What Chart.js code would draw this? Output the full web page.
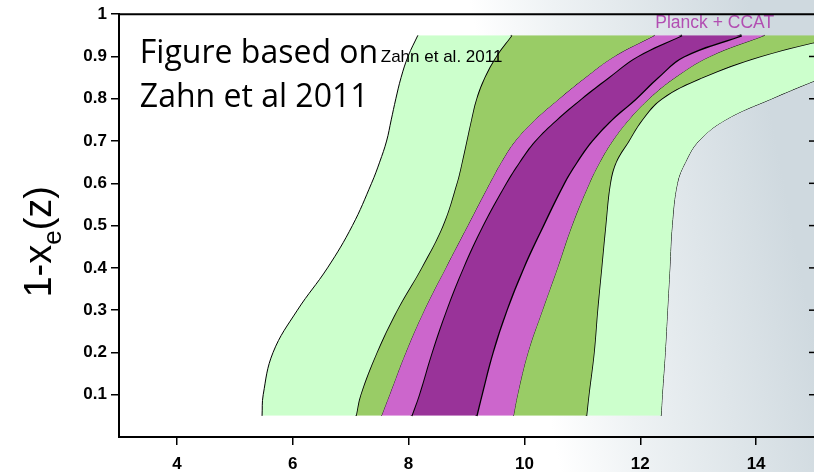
<!DOCTYPE html>
<html>
<head>
<meta charset="utf-8">
<script src="https://cdn.jsdelivr.net/npm/chart.js@4.4.1/dist/chart.umd.min.js"></script>
<style>
  html, body { margin: 0; padding: 0; background: #fff; }
</style>
</head>
<body>
<canvas id="reion" width="814" height="472"></canvas>
<script>
// 1 - x_e levels shared by every contour line
const levels = [0.05, 0.1, 0.2, 0.3, 0.4, 0.5, 0.6, 0.65, 0.7, 0.75, 0.8, 0.85, 0.9, 0.95];

// redshift z of each boundary, left to right
const outer95Left  = [5.47, 5.49, 5.66, 6.08, 6.60, 7.03, 7.36, 7.50, 7.62, 7.70, 7.78, 7.87, 7.99, 8.16];
const outer68Left  = [7.09, 7.17, 7.45, 7.80, 8.22, 8.59, 8.83, 8.92, 9.00, 9.08, 9.17, 9.31, 9.51, 9.78];
const ccat95Left   = [7.53, 7.67, 7.95, 8.27, 8.64, 9.02, 9.40, 9.60, 9.84, 10.18, 10.60, 11.05, 11.55, 12.25];
const ccat68Left   = [8.05, 8.18, 8.40, 8.65, 8.94, 9.28, 9.68, 9.91, 10.18, 10.55, 10.98, 11.45, 11.95, 12.72];
const ccat68Right  = [9.17, 9.26, 9.45, 9.69, 9.98, 10.32, 10.68, 10.90, 11.16, 11.50, 11.92, 12.30, 12.75, 13.75];
const ccat95Right  = [9.81, 9.88, 10.06, 10.31, 10.57, 10.82, 11.12, 11.30, 11.52, 11.80, 12.15, 12.60, 13.20, 14.15];
const outer68Right = [11.07, 11.11, 11.20, 11.26, 11.33, 11.40, 11.48, 11.58, 11.80, 12.03, 12.37, 13.07, 14.07, 15.5];
const outer95Right = [12.36, 12.38, 12.43, 12.47, 12.51, 12.55, 12.64, 12.78, 13.01, 13.47, 14.27, 15.15, 16.1, 17.0];

const xTicks = [4, 6, 8, 10, 12, 14];
const yTicks = [0.1, 0.2, 0.3, 0.4, 0.5, 0.6, 0.7, 0.8, 0.9, 1];

const notes = [
  { text: 'Figure based on', x: 3.36, y: 0.884, font: '32px "Open Sans"', color: '#000' },
  { text: 'Zahn et al 2011', x: 3.36, y: 0.78, font: '32px "Open Sans"', color: '#000' },
  { text: 'Zahn et al. 2011', x: 7.52, y: 0.887, font: '17px "Liberation Sans"', color: '#000' },
  { text: 'Planck + CCAT', x: 12.26, y: 0.967, font: '17.5px "Liberation Sans"', color: '#b24eb2' }
];

const lightGreen = '#ccffcc', green = '#99cc66', pink = '#cc66cc', purple = '#993399';

const lines = [
  { z: outer95Left,  fill: lightGreen, w: 1 },
  { z: outer68Left,  fill: green,      w: 1.6 },
  { z: ccat95Left,   fill: pink,       w: 0.8 },
  { z: ccat68Left,   fill: purple,     w: 2 },
  { z: ccat68Right,  fill: pink,       w: 2.5 },
  { z: ccat95Right,  fill: green,      w: 0.8 },
  { z: outer68Right, fill: lightGreen, w: 1.6 },
  { z: outer95Right, fill: null,       w: 1 }
];

const datasets = lines.map(l => ({
  data: l.z.map((z, i) => ({ x: z, y: levels[i] })),
  borderColor: '#000',
  borderWidth: l.w,
  backgroundColor: l.fill || 'transparent',
  fill: l.fill ? '+1' : false,
  pointRadius: 0,
  tension: 0.4
}));

const backdrop = {
  id: 'backdrop',
  beforeDraw(chart) {
    const ctx = chart.ctx;
    const g = ctx.createLinearGradient(560, 472, 830, 420);
    g.addColorStop(0, '#ffffff');
    g.addColorStop(0.3, '#eef2f4');
    g.addColorStop(1, '#cfd9df');
    ctx.save();
    ctx.fillStyle = g;
    ctx.fillRect(0, 0, chart.width, chart.height);
    ctx.restore();
  }
};

const extras = {
  id: 'extras',
  afterDatasetsDraw(chart) {
    const ctx = chart.ctx, xs = chart.scales.x, ys = chart.scales.y;
    ctx.save();
    ctx.textBaseline = 'alphabetic';
    ctx.textAlign = 'left';
    notes.forEach(n => {
      ctx.font = n.font;
      ctx.fillStyle = n.color;
      ctx.fillText(n.text, xs.getPixelForValue(n.x), ys.getPixelForValue(n.y));
    });
    ctx.restore();
  },
  afterDraw(chart) {
    const ctx = chart.ctx, a = chart.chartArea, ys = chart.scales.y;
    ctx.save();
    ctx.strokeStyle = '#000';
    ctx.lineWidth = 2;
    ctx.beginPath();
    ctx.moveTo(a.left, a.top);
    ctx.lineTo(a.right, a.top);
    ctx.stroke();
    ctx.lineWidth = 1.5;
    yTicks.slice(0, -1).forEach(v => {
      const py = ys.getPixelForValue(v);
      ctx.beginPath();
      ctx.moveTo(a.right - 5, py);
      ctx.lineTo(a.right, py);
      ctx.stroke();
    });
    // axis title 1-x_e(z), read bottom to top
    ctx.translate(a.left - 68, (a.top + a.bottom) / 2 + 72);
    ctx.rotate(-Math.PI / 2);
    ctx.fillStyle = '#000';
    ctx.textBaseline = 'alphabetic';
    ctx.font = '38px "Liberation Sans"';
    ctx.fillText('1-x', 0, 0);
    let w = ctx.measureText('1-x').width;
    ctx.font = '26px "Liberation Sans"';
    ctx.fillText('e', w, 10);
    w += ctx.measureText('e').width;
    ctx.font = '38px "Liberation Sans"';
    ctx.fillText('(z)', w, 0);
    ctx.restore();
  }
};

new Chart(document.getElementById('reion'), {
  type: 'line',
  data: { datasets: datasets },
  options: {
    indexAxis: 'y',
    responsive: false,
    animation: false,
    events: [],
    layout: { padding: { top: 14, right: 0, left: 0, bottom: 0 } },
    plugins: { legend: { display: false }, tooltip: { enabled: false } },
    scales: {
      x: {
        type: 'linear', min: 3, max: 15, position: 'bottom',
        afterBuildTicks: s => { s.ticks = xTicks.map(v => ({ value: v })); },
        afterFit: s => { s.height = 35; },
        ticks: { color: '#000', font: { family: 'Liberation Sans', size: 17, weight: 'bold' }, padding: 9, maxRotation: 0 },
        grid: { drawOnChartArea: false, tickLength: 8, color: '#000', lineWidth: 1.5 },
        border: { color: '#000', width: 2 }
      },
      y: {
        type: 'linear', min: 0, max: 1, position: 'left',
        afterBuildTicks: s => { s.ticks = yTicks.map(v => ({ value: v })); },
        afterFit: s => { s.width = 119; },
        ticks: { color: '#000', font: { family: 'Liberation Sans', size: 17, weight: 'bold' }, padding: 4, callback: v => String(v) },
        grid: { drawOnChartArea: false, tickLength: 8, color: '#000', lineWidth: 1.5 },
        border: { color: '#000', width: 2 }
      }
    }
  },
  plugins: [backdrop, extras]
});
</script>
</body>
</html>
